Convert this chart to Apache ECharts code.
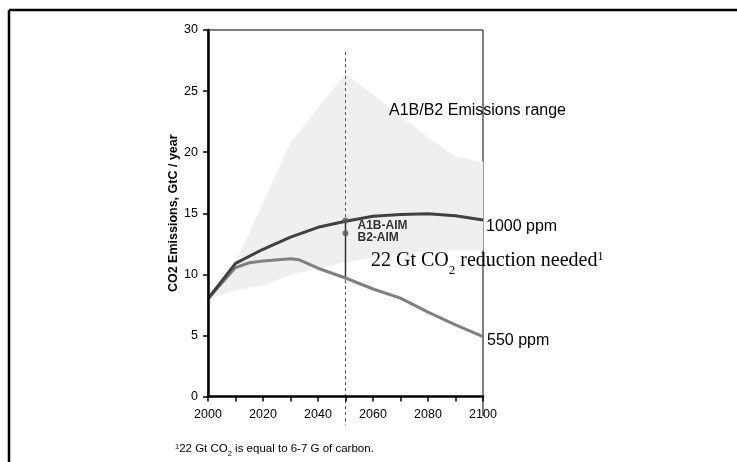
<!DOCTYPE html>
<html><head><meta charset="utf-8">
<script src="https://cdn.jsdelivr.net/npm/echarts@6/dist/echarts.min.js"></script>
<style>html,body{margin:0;padding:0;background:#fff}#c{width:737px;height:462px}</style>
</head><body><div id="c"></div>
<script>
// ---- data ----
const years = [2000, 2010, 2020, 2030, 2040, 2050, 2060, 2070, 2080, 2090, 2100];
const ppm1000 = [8.0, 10.9, 12.05, 13.05, 13.85, 14.35, 14.75, 14.9, 14.95, 14.8, 14.45];
const ppm550Years = [2000, 2010, 2015, 2020, 2030, 2033, 2040, 2050, 2060, 2070, 2080, 2090, 2100];
const ppm550 = [8.0, 10.55, 10.95, 11.1, 11.27, 11.2, 10.5, 9.7, 8.8, 8.05, 6.9, 5.87, 4.9];
const rangeUpper = [8.0, 10.9, 15.8, 20.7, 23.6, 26.4, 24.7, 22.9, 21.2, 19.6, 19.2];
const rangeLower = [8.0, 8.7, 9.1, 10.0, 10.5, 11.0, 11.4, 11.7, 11.9, 12.0, 12.0];
const aimYear = 2050;
const aimNames = ['A1B-AIM', 'B2-AIM'];
const aimValues = [14.4, 13.37];
const reductionSpan = [14.4, 9.6];
const dashSpan = [28.2, -2.3];
const borderYear = 2100;
const borderExtension = [0, -1.6];
const yTicks = { min: 0, max: 30, interval: 5 };
const xTicks = { min: 2000, max: 2100, interval: 10, labelEvery: 20 };

// ---- chart ----
const chart = echarts.init(document.getElementById('c'), null, { renderer: 'canvas' });
const FONT = 'Liberation Sans, Arial, sans-serif';
const SERIF = 'Liberation Serif, Times New Roman, serif';

const pairs = (xs, ys) => xs.map((x, i) => [x, ys[i]]);
// band segments: [x0, x1, lo0, hi0, lo1, hi1]
const bandSegments = years.slice(0, -1).map((x, i) => [x, years[i + 1], rangeLower[i], rangeUpper[i], rangeLower[i + 1], rangeUpper[i + 1]]);

const lineItems = [
  [aimYear, dashSpan[0], dashSpan[1], 0],
  [aimYear, reductionSpan[0], reductionSpan[1], 1],
  [borderYear, borderExtension[0], borderExtension[1], 2]
];
const lineStyles = [
  { stroke: '#555', lineWidth: 1, lineDash: [3, 3] },
  { stroke: '#333', lineWidth: 1.5 },
  { stroke: '#000', lineWidth: 1 }
];

chart.setOption({
  animation: false,
  backgroundColor: '#fff',
  grid: { left: 208, top: 30, width: 275, height: 366.5, show: true, borderColor: '#000', borderWidth: 1, backgroundColor: 'transparent', outerBoundsMode: 'none', containLabel: false },
  xAxis: {
    type: 'value', min: xTicks.min, max: xTicks.max, interval: xTicks.interval,
    axisLine: { show: true, lineStyle: { color: '#000', width: 2.5 } },
    axisTick: { show: true, length: 5, inside: false, lineStyle: { color: '#000', width: 1.5 } },
    axisLabel: { color: '#000', fontFamily: FONT, fontSize: 12.5, margin: 12,
      formatter: v => (v % xTicks.labelEvery === 0 ? String(v) : '') },
    splitLine: { show: false }, z: 10
  },
  yAxis: {
    type: 'value', min: yTicks.min, max: yTicks.max, interval: yTicks.interval,
    name: 'CO2 Emissions, GtC / year', nameLocation: 'middle', nameGap: 27,
    nameTextStyle: { color: '#000', fontFamily: FONT, fontSize: 12.5, fontWeight: 'bold' },
    axisLine: { show: true, lineStyle: { color: '#000', width: 2.5 } },
    axisTick: { show: true, length: 5, inside: false, lineStyle: { color: '#000', width: 1.5 } },
    axisLabel: { color: '#000', fontFamily: FONT, fontSize: 12.5, margin: 10 },
    splitLine: { show: false }, z: 10
  },
  series: [
    { type: 'custom', name: 'A1B/B2 range', data: bandSegments, z: 1, silent: true,
      renderItem: (params, api) => {
        const x0 = api.value(0), x1 = api.value(1);
        const pts = [api.coord([x0, api.value(2)]), api.coord([x0, api.value(3)]),
                     api.coord([x1, api.value(5)]), api.coord([x1, api.value(4)])];
        return { type: 'polygon', shape: { points: pts }, style: { fill: '#efefef', stroke: '#efefef', lineWidth: 0.6 } };
      } },
    { type: 'custom', name: 'guides', data: lineItems, z: 3, silent: true,
      renderItem: (params, api) => {
        const x = api.value(0), a = api.coord([x, api.value(1)]), b = api.coord([x, api.value(2)]);
        return { type: 'line', shape: { x1: a[0], y1: a[1], x2: b[0], y2: b[1] }, style: lineStyles[api.value(3)] };
      } },
    { type: 'line', name: '550 ppm', data: pairs(ppm550Years, ppm550), symbol: 'none', z: 4,
      lineStyle: { color: '#808080', width: 3 },
      endLabel: { show: true, formatter: '550 ppm', color: '#000', fontFamily: FONT, fontSize: 16, distance: 4, offset: [0, 4] } },
    { type: 'line', name: '1000 ppm', data: pairs(years, ppm1000), symbol: 'none', z: 5,
      lineStyle: { color: '#404040', width: 3 },
      endLabel: { show: true, formatter: '1000 ppm', color: '#000', fontFamily: FONT, fontSize: 16, distance: 3, offset: [0, 7] } },
    { type: 'scatter', name: 'AIM', data: aimNames.map((n, i) => ({ name: n, value: [aimYear, aimValues[i]] })),
      symbolSize: 6, itemStyle: { color: '#555' }, z: 6,
      label: { show: true, position: 'right', distance: 9, offset: [0, 5], formatter: p => p.name,
        color: '#000', fontFamily: FONT, fontSize: 12, fontWeight: 'bold' } }
  ],
  graphic: [
    { type: 'line', shape: { x1: 9, y1: 10, x2: 737, y2: 10 }, style: { stroke: '#000', lineWidth: 2.5 } },
    { type: 'line', shape: { x1: 9, y1: 10, x2: 9, y2: 462 }, style: { stroke: '#000', lineWidth: 2.5 } },
    { type: 'text', left: 389, top: 103, z: 10,
      style: { text: 'A1B/B2 Emissions range', fill: '#000', font: '16px ' + FONT } },
    { type: 'text', left: 371, top: 251, z: 10,
      style: { text: '{a|22 Gt CO}{s|2}{a| reduction needed}{p|1}', fill: '#000',
        rich: {
          a: { fontFamily: SERIF, fontSize: 20, fill: '#000', verticalAlign: 'bottom' },
          s: { fontFamily: SERIF, fontSize: 13, fill: '#000', padding: [0, 0, -6, 0], verticalAlign: 'bottom' },
          p: { fontFamily: SERIF, fontSize: 12, fill: '#000', padding: [0, 0, 8, 0], verticalAlign: 'bottom' }
        } } },
    { type: 'text', left: 175, top: 443, z: 10,
      style: { text: '{p|1}{a|22 Gt CO}{s|2}{a| is equal to 6-7 G of carbon.}', fill: '#000',
        rich: {
          a: { fontFamily: FONT, fontSize: 11.5, fill: '#000', verticalAlign: 'bottom' },
          s: { fontFamily: FONT, fontSize: 7.5, fill: '#000', padding: [0, 0, -3, 0], verticalAlign: 'bottom' },
          p: { fontFamily: FONT, fontSize: 7.5, fill: '#000', padding: [0, 0, 4, 0], verticalAlign: 'bottom' }
        } } }
  ]
});
</script></body></html>
